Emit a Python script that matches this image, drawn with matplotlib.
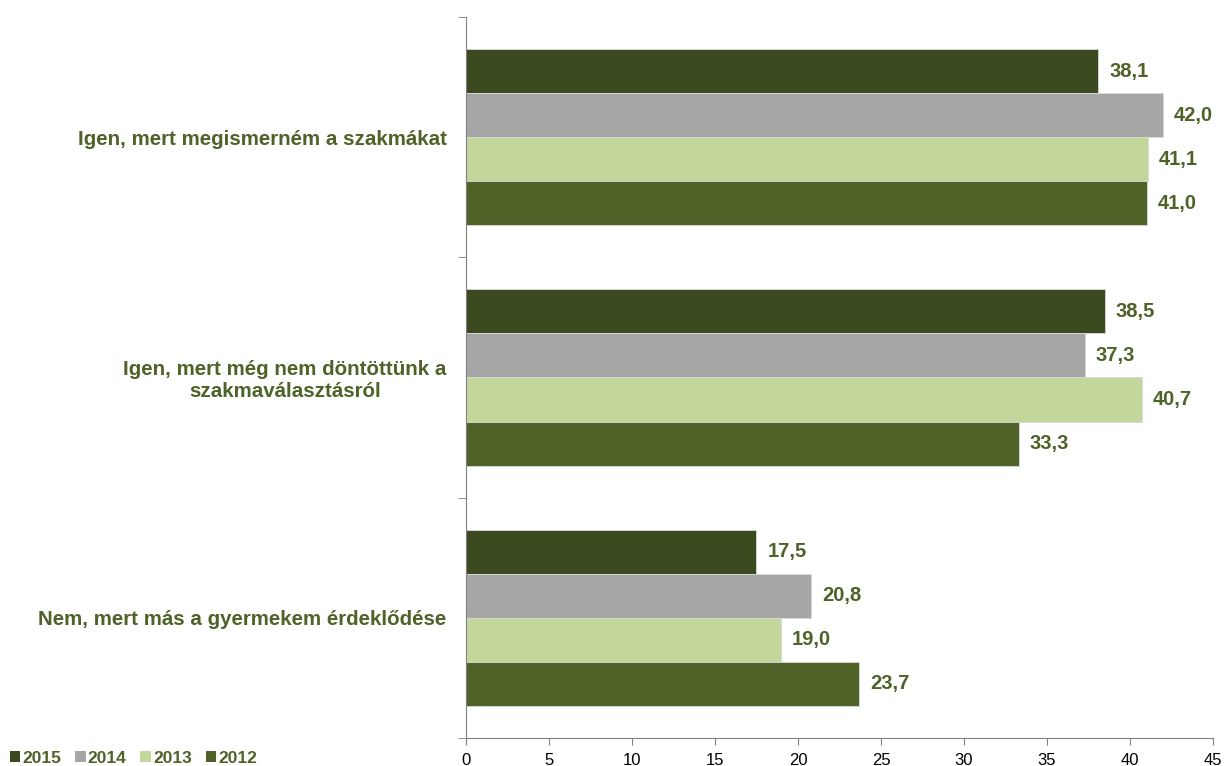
import numpy as np
import matplotlib.pyplot as plt
from matplotlib.patches import Patch

plt.rcParams['font.family'] = ['Liberation Sans', 'DejaVu Sans']

categories = ['Igen, mert megismerném a szakmákat',
              'Igen, mert még nem döntöttünk a\nszakmaválasztásról',
              'Nem, mert más a gyermekem érdeklődése']
years = ['2015', '2014', '2013', '2012']
v2015 = [38.1, 38.5, 17.5]
v2014 = [42.0, 37.3, 20.8]
v2013 = [41.1, 40.7, 19.0]
v2012 = [41.0, 33.3, 23.7]
series = [v2015, v2014, v2013, v2012]
colors = ['#3B4A1F', '#A6A6A6', '#C4D79B', '#4F6228']
txt = '#4F6228'

fig = plt.figure(figsize=(12.24, 7.66), dpi=100)
ax = fig.add_axes([0.3807, 0.0366, 0.6103, 0.9412])

y = np.arange(len(categories))
h = 0.1833
for i, (vals, c) in enumerate(zip(series, colors)):
    pos = y + (i - 1.5) * h
    ax.barh(pos, vals, height=h, color=c, edgecolor='#D9D9D9', linewidth=0.6)
    for p, v in zip(pos, vals):
        ax.text(v + 0.65, p, f'{v:.1f}'.replace('.', ','), va='center', ha='left',
                fontsize=14.5, fontweight='bold', color=txt)

ax.set_xlim(0, 45)
ax.set_ylim(2.5, -0.5)
ax.set_xticks(np.arange(0, 46, 5))
ax.tick_params(axis='x', direction='out', length=5, color='#808080', labelsize=12, pad=6)
ax.set_yticks(y)
ax.set_yticklabels(categories, fontsize=14.8, fontweight='bold', color=txt, ha='right',
                   multialignment='center')
ax.tick_params(axis='y', which='major', length=0, pad=14)
ax.set_yticks([-0.5, 0.5, 1.5, 2.5], minor=True)
ax.tick_params(axis='y', which='minor', direction='out', length=6, color='#808080')
for s in ['top', 'right']:
    ax.spines[s].set_visible(False)
for s in ['left', 'bottom']:
    ax.spines[s].set_color('#808080')

handles = [Patch(facecolor=c) for c in colors]
leg = fig.legend(handles, years, loc='lower left', bbox_to_anchor=(10 / 1224, 0.0), ncol=4,
                 frameon=False, borderpad=0, borderaxespad=0,
                 handlelength=0.6, handleheight=0.6, handletextpad=0.12,
                 columnspacing=0.8, prop={'weight': 'bold', 'size': 12.5})
for t in leg.get_texts():
    t.set_color(txt)

fig.savefig('out.png', dpi=100)
